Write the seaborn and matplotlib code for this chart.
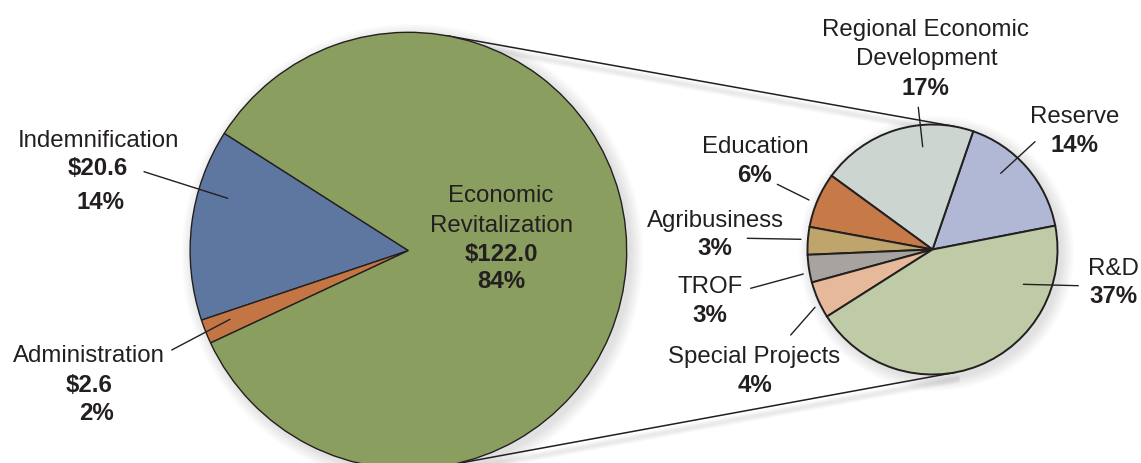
import numpy as np
import matplotlib
matplotlib.use("Agg")
import matplotlib.pyplot as plt
import seaborn as sns
from matplotlib.patches import Circle

# ---------------- data ----------------
main_labels = ["Indemnification", "Administration", "Economic Revitalization"]
main_values = [20.6, 2.6, 122.0]          # $ millions
main_colors = ["#5E77A0", "#C37644", "#8A9E60"]

sub_labels = ["Reserve", "Regional Economic\nDevelopment", "Education",
              "Agribusiness", "TROF", "Special Projects", "R&D"]
sub_values = [14, 17, 6, 3, 3, 4, 37]       # percent of total
sub_colors = ["#B0B8D5", "#CDD5D0", "#C67A47", "#BFA46C",
              "#A7A39E", "#E5B999", "#BFCBA6"]

# ---------------- style ----------------
W, H = 1141, 463
INK = "#231F20"
sns.set_theme(style="white")
plt.rcParams["font.family"] = ["Liberation Sans", "DejaVu Sans"]
FS = 17.3

fig = plt.figure(figsize=(W / 100, H / 100), dpi=100)
ax = fig.add_axes([0, 0, 1, 1])

C1, R1 = np.array([408.4, 250.6]), 218.3
C2, R2 = np.array([932.5, 249.5]), 125.0

# soft drop shadows
for C, R in ((C1, R1), (C2, R2)):
    for k in range(10):
        ax.add_patch(Circle((C[0] + 4, C[1] + 4), R + 1 + k * 1.3,
                            color="black", alpha=0.012, lw=0, zorder=0))

# connector lines: external tangents of the two circles
d = C2 - C1
D = np.hypot(*d)
u = d / D
perp = np.array([u[1], -u[0]])
ca = (R1 - R2) / D
sa = np.sqrt(1 - ca ** 2)
for sgn in (1, -1):
    n = ca * u + sgn * sa * perp
    P1 = C1 + R1 * n
    P2 = C2 + R2 * n
    for k in range(6):
        ax.plot([P1[0] + 3, P2[0] + 3], [P1[1] + 4 + k, P2[1] + 4 + k],
                color="black", alpha=0.018, lw=3, zorder=0.5,
                solid_capstyle="round")
    ax.plot([P1[0], P2[0]], [P1[1], P2[1]], color=INK, lw=1.1, zorder=1)

# pies (y axis inverted -> counterclock=False gives visual counter-clockwise)
ax.pie(main_values, colors=sns.color_palette(main_colors), startangle=-147.5,
       counterclock=False, center=tuple(C1), radius=R1,
       wedgeprops=dict(edgecolor=INK, linewidth=1.0), frame=True)
ax.pie(sub_values, colors=sns.color_palette(sub_colors), startangle=-11,
       counterclock=False, center=tuple(C2), radius=R2,
       wedgeprops=dict(edgecolor=INK, linewidth=1.4), frame=True)

ax.set_xlim(0, W)
ax.set_ylim(H, 0)
ax.set_aspect("equal")
ax.axis("off")

total = sum(main_values)
main_pct = [f"{round(v / total * 100):.0f}%" for v in main_values]
main_dollar = [f"\\${v:.1f}" for v in main_values]
sub_pct = [f"{v}%" for v in sub_values]


def T(x, y, s, bold=False, ha="center"):
    ax.text(x, y, s, ha=ha, va="baseline", fontsize=FS, color=INK,
            fontweight="bold" if bold else "normal", zorder=5)


def L(x0, y0, x1, y1):
    ax.plot([x0, x1], [y0, y1], color=INK, lw=1.0, zorder=4)


# main pie labels
T(98, 147, main_labels[0])
T(98, 175, main_dollar[0], True)
T(101, 209, main_pct[0], True)
L(144, 171.7, 227.7, 198.3)

T(89, 361.7, main_labels[1])
T(89, 391.7, main_dollar[1], True)
T(96, 420, main_pct[1], True)
L(171.7, 350, 230, 319.3)

T(501, 201.7, main_labels[2].split()[0])
T(501, 231.7, main_labels[2].split()[1])
T(501, 261, main_dollar[2], True)
T(501, 288.3, main_pct[2], True)

# sub pie labels
reg1, reg2 = sub_labels[1].split("\n")
T(925, 36, reg1)
T(927, 65, reg2)
T(925, 95, sub_pct[1], True)
L(918.3, 107.3, 922.7, 146.7)

T(1075, 123.3, sub_labels[0])
T(1074, 151.7, sub_pct[0], True)
L(1035, 141.7, 1000.7, 173.3)

T(755, 153.3, sub_labels[2])
T(755, 181.7, sub_pct[2], True)
L(777.3, 184.3, 809, 200)

T(715, 226.7, sub_labels[3])
T(715, 255, sub_pct[3], True)
L(747.3, 238.3, 801, 239.3)

T(710, 293.3, sub_labels[4])
T(710, 321.7, sub_pct[4], True)
L(750.7, 288.3, 803.3, 274)

T(754.5, 363.3, sub_labels[5])
T(755, 391.7, sub_pct[5], True)
L(790.7, 335, 815, 307.3)

T(1113, 275, sub_labels[6])
T(1113, 303.3, sub_pct[6], True)
L(1023.3, 284.3, 1078.3, 285.7)

fig.savefig("out.png", dpi=100)
